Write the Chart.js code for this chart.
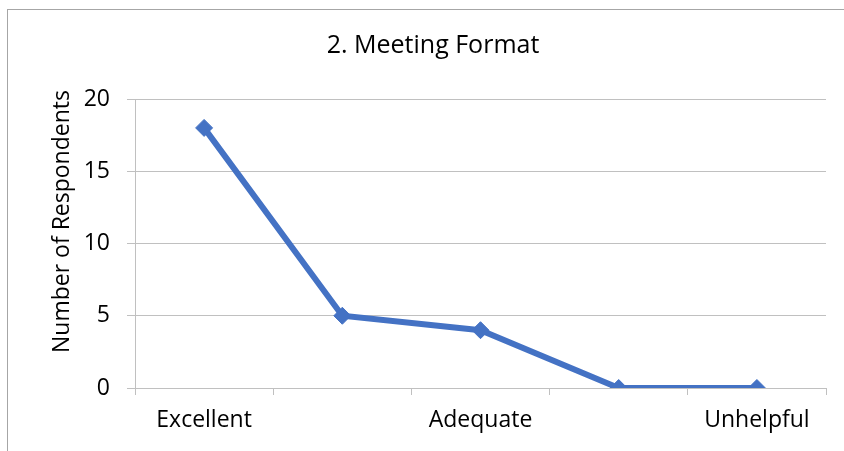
<!DOCTYPE html>
<html>
<head>
<meta charset="utf-8">
<script src="https://cdn.jsdelivr.net/npm/chart.js@4"></script>
<style>
  html, body { margin: 0; padding: 0; background: #fff; }
  #frame { position: absolute; left: 7px; top: 9px; width: 900px; height: 500px;
           border-top: 1px solid #a6a6a6; border-left: 1px solid #a6a6a6; }
  #wrap { position: absolute; left: 0; top: 0; width: 844px; height: 451px; }
</style>
</head>
<body>
<div id="frame"></div>
<div id="wrap"><canvas id="c" width="844" height="451"></canvas></div>
<script>
const categories = ["Excellent", "", "Adequate", "", "Unhelpful"];
const respondents = [18, 5, 4, 0, 0];
const yTicks = [0, 5, 10, 15, 20];
const chartTitle = "2. Meeting Format";
const yTitle = "Number of Respondents";

const FONT = "'Open Sans', 'Noto Sans', sans-serif";
const GRID = "#c0c0c0";

// Vertical axis title, drawn as canvas text beside the value axis
const yTitlePlugin = {
  id: "yTitlePlugin",
  afterDraw(chart) {
    const ctx = chart.ctx;
    ctx.save();
    ctx.translate(62, 221.5);
    ctx.rotate(-Math.PI / 2);
    ctx.font = "23px " + FONT;
    ctx.fillStyle = "#000";
    ctx.textAlign = "center";
    ctx.textBaseline = "middle";
    ctx.fillText(yTitle, 0, 0);
    ctx.restore();
  }
};

new Chart(document.getElementById("c"), {
  type: "line",
  data: {
    labels: categories,
    datasets: [{
      data: respondents,
      borderColor: "#4472C4",
      backgroundColor: "#4472C4",
      borderWidth: 6,
      pointStyle: "rectRot",
      pointRadius: 8.5,
      pointBorderWidth: 1,
      pointBackgroundColor: "#4472C4",
      pointBorderColor: "#4472C4",
      tension: 0
    }]
  },
  plugins: [yTitlePlugin],
  options: {
    responsive: false,
    animation: false,
    layout: { padding: { left: 40, right: 18, top: 0, bottom: 0 } },
    plugins: {
      legend: { display: false },
      tooltip: { enabled: false },
      title: {
        display: true,
        text: chartTitle,
        color: "#000",
        font: { family: FONT, size: 25, weight: "normal", lineHeight: 1.2 },
        padding: { top: 31, bottom: 38 }
      }
    },
    scales: {
      x: {
        type: "category",
        offset: true,
        grid: { display: true, offset: true, drawOnChartArea: false, drawTicks: true,
                tickLength: 7, color: GRID, lineWidth: 1 },
        border: { display: true, color: GRID, width: 1 },
        ticks: { color: "#000", font: { family: FONT, size: 23 }, padding: 12,
                 autoSkip: false, maxRotation: 0 },
        afterFit: s => { s.height = 63; }
      },
      y: {
        min: 0, max: 20,
        afterBuildTicks: s => { s.ticks = yTicks.map(v => ({ value: v })); },
        grid: { color: GRID, lineWidth: 1, tickLength: 8 },
        border: { display: true, color: GRID, width: 1 },
        ticks: { color: "#000", font: { family: FONT, size: 23 }, padding: 17 },
        afterFit: s => { s.width = 95; }
      }
    }
  }
});
</script>
</body>
</html>
